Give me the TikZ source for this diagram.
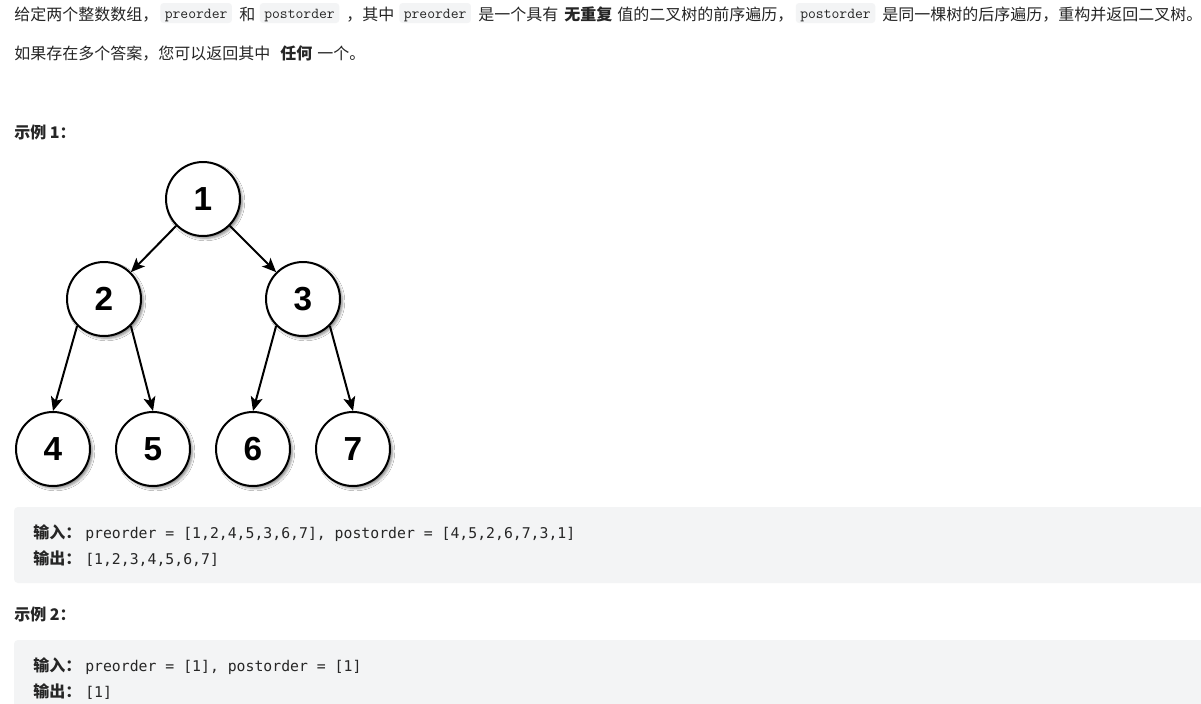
\documentclass[tikz,border=0pt]{standalone}
\usepackage{fontspec}
\setmainfont{Noto Sans CJK SC}
\newfontfamily\numfont{Liberation Sans}
\newfontfamily\codefont{DejaVu Sans Mono}
\newfontfamily\inlinefont{Latin Modern Mono}
\usetikzlibrary{arrows.meta}
\usetikzlibrary{shadows.blur}

\definecolor{textgray}{RGB}{38,38,38}
\definecolor{codebg}{RGB}{243,244,245}

\tikzset{
  para/.style={anchor=base west, inner sep=0pt, text=textgray, font=\fontsize{12}{14}\selectfont},
  strong/.style={para, font=\fontsize{12}{14}\selectfont\bfseries},
  inlinecode/.style={anchor=base west, fill=codebg, rounded corners=2.5pt, inner xsep=3.4pt, inner ysep=0pt,
    text height=11.6pt, text depth=3.4pt, text=textgray, font=\inlinefont\fontsize{11.4}{13}\selectfont},
  blockcode/.style={anchor=base west, inner sep=0pt, text=textgray, font=\codefont\fontsize{11.1}{13}\selectfont},
  treenode/.style={circle, draw, line width=1.5pt, fill=white, minimum size=55.5pt, inner sep=0pt,
    font=\numfont\bfseries\fontsize{25}{25}\selectfont,
    blur shadow={shadow xshift=1.8pt, shadow yshift=-1.8pt, shadow blur radius=1.8pt, shadow opacity=45}},
  treeedge/.style={line width=1.5pt, -{Stealth[length=10.5pt, width=9pt, inset=2.5pt]}}
}

\begin{document}
\begin{tikzpicture}[x=0.75pt, y=-0.75pt]
    \clip (0,0) rectangle (1201,703);
    \fill[white] (0,0) rectangle (1201,703);

    % first line of the statement
    \node[para] (t1) at (14,20.5) {给定两个整数数组，};
    \node[inlinecode] (c1) at (160,18.5) {preorder};
    \node[para] (t2) at (239,20.5) {和};
    \node[inlinecode] (c2) at (259.5,18.5) {postorder};
    \node[para] (t3) at (346,20.5) {，其中};
    \node[inlinecode] (c3) at (399,18.5) {preorder};
    \node[para] (t4) at (478,20.5) {是一个具有};
    \node[strong] (t5) at (564,20.5) {无重复};
    \node[para] (t6) at (617,20.5) {值的二叉树的前序遍历，};
    \node[inlinecode] (c4) at (795.5,18.5) {postorder};
    \node[para] (t7) at (882,20.5) {是同一棵树的后序遍历，重构并返回二叉树。};

    % second line
    \node[para] (s1) at (14,59.5) {如果存在多个答案，您可以返回其中};
    \node[strong] (s2) at (280,59.5) {任何};
    \node[para] (s3) at (317,59.5) {一个。};

    \node[strong] (ex1) at (14,138.5) {示例 1：};

    % the tree
    \node[treenode] (n1) at (203,199) {1};
    \node[treenode] (n2) at (104,299) {2};
    \node[treenode] (n3) at (303,299) {3};
    \node[treenode] (n4) at ( 53,449) {4};
    \node[treenode] (n5) at (153,449) {5};
    \node[treenode] (n6) at (253,449) {6};
    \node[treenode] (n7) at (353,449) {7};
    \draw (n1.south west) edge[treeedge] (n2.north east);
    \draw (n1.south east) edge[treeedge] (n3.north west);
    \draw (n2.south west) edge[treeedge] (n4.north);
    \draw (n2.south east) edge[treeedge] (n5.north);
    \draw (n3.south west) edge[treeedge] (n6.north);
    \draw (n3.south east) edge[treeedge] (n7.north);

    % example 1 block
    \fill[codebg, rounded corners=3pt] (14,507) rectangle (1220,583);
    \node[strong] (in1) at (33,538) {输入：};
    \node[blockcode] (p1) at (85,538) {preorder = [1,2,4,5,3,6,7], postorder = [4,5,2,6,7,3,1]};
    \node[strong] (out1) at (33,564.5) {输出：};
    \node[blockcode] (r1) at (85,564.5) {[1,2,3,4,5,6,7]};

    \node[strong] (ex2) at (14,620) {示例 2：};

    % example 2 block
    \fill[codebg, rounded corners=3pt] (14,640) rectangle (1220,730);
    \node[strong] (in2) at (33,671) {输入：};
    \node[blockcode] (p2) at (85,671) {preorder = [1], postorder = [1]};
    \node[strong] (out2) at (33,697.5) {输出：};
    \node[blockcode] (r2) at (85,697.5) {[1]};
\end{tikzpicture}
\end{document}
